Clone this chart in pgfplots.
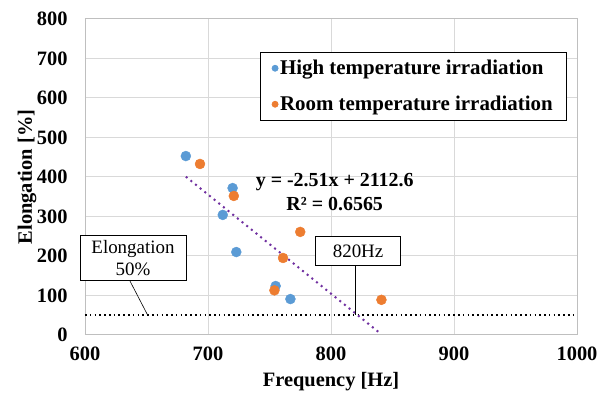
\documentclass[border=0pt]{standalone}
\usepackage{pgfplots}
\pgfplotsset{compat=1.18}
\usepackage{fontspec}
\setmainfont{Liberation Serif}
\definecolor{hiblue}{HTML}{5B9BD5}
\definecolor{roomorange}{HTML}{ED7D31}
\definecolor{trendpurple}{HTML}{7030A0}
\definecolor{gridgray}{HTML}{D9D9D9}
\definecolor{framegray}{HTML}{BFBFBF}
\begin{document}
\begin{tikzpicture}
\begin{axis}[
  name=ax,
  scale only axis,
  width=492bp, height=316bp,
  xmin=600, xmax=1000, ymin=0, ymax=800,
  xtick={600,700,...,1000}, ytick={0,100,...,800},
  grid=major,
  major grid style={gridgray, line width=1pt},
  axis line style={framegray, line width=1pt},
  major tick length=0pt,
  /pgf/number format/assume math mode=true,
  /pgf/number format/1000 sep={},
  tick label style={font=\fontsize{20.5}{24}\selectfont\bfseries},
  yticklabel style={xshift=-14bp},
  xticklabel style={yshift=-8bp},
  xlabel={Frequency [Hz]},
  ylabel={Elongation [\%]},
  label style={font=\fontsize{20.5}{24}\selectfont\bfseries},
  xlabel style={at={(axis description cs:0.5,-0.146)}, anchor=center},
  ylabel style={at={(axis description cs:-0.118,0.5)}, anchor=center},
  legend style={at={(0.98,0.896)}, anchor=north east, draw=black, line width=0.8pt,
    font=\fontsize{21}{25}\selectfont\bfseries, row sep=16bp,
    inner xsep=12bp, inner ysep=6bp, cells={anchor=west}},
  legend image code/.code={\draw[#1, mark size=3bp] plot coordinates {(0.15cm,0cm)};},
  legend cell align=left,
  clip=false,
]
% 50% elongation line
\addplot[black, line width=1.6pt, dash pattern=on 1.6pt off 3.2pt, forget plot] coordinates {(600,50) (1000,50)};
% trend line
\addplot[trendpurple, line width=2pt, dash pattern=on 2pt off 4pt, forget plot] coordinates {(682,400.8) (840,4.2)};
\addplot[only marks, mark=*, mark size=5bp, color=hiblue, mark options={draw=hiblue, fill=hiblue}] coordinates {
(682,453) (720,372) (712,304) (723,210) (755,124) (767,91)};
\addlegendentry{High temperature irradiation}
\addplot[only marks, mark=*, mark size=5bp, color=roomorange, mark options={draw=roomorange, fill=roomorange}] coordinates {
(693.5,433) (721,352) (775,261) (761,195) (754,113) (841,89)};
\addlegendentry{Room temperature irradiation}
% callouts
\draw[black, line width=0.6pt] (axis cs:636.5,137) -- (axis cs:651,50);
\node[draw=black, fill=white, line width=0.8pt, align=center, inner sep=4bp,
  font=\fontsize{19}{22}\selectfont, minimum width=106bp, minimum height=45bp] at (axis cs:639,195) {Elongation\\50\%};
\draw[black, line width=0.6pt] (axis cs:820,175) -- (axis cs:820,50);
\node[draw=black, fill=white, line width=0.8pt, inner sep=4bp,
  font=\fontsize{19}{22}\selectfont, minimum width=85bp, minimum height=29bp] at (axis cs:822,213) {820Hz};
\node[align=center, font=\fontsize{20}{24}\selectfont\bfseries] at (axis cs:803,362) {y = -2.51x + 2112.6\\R² = 0.6565};
\end{axis}
\pgfresetboundingbox
\path ([xshift=-85bp,yshift=-59bp]ax.south west) rectangle ([xshift=24bp,yshift=19bp]ax.north east);
\end{tikzpicture}
\end{document}
